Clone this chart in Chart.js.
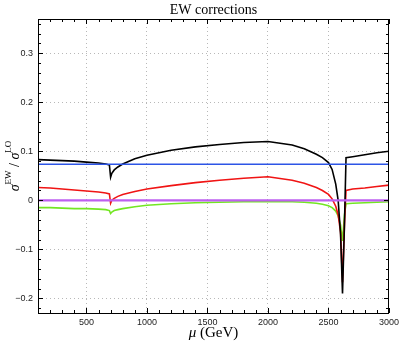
<!DOCTYPE html>
<html>
<head>
<meta charset="utf-8">
<script src="https://cdn.jsdelivr.net/npm/chart.js@4"></script>
<style>
  html, body { margin: 0; padding: 0; background: #fff; }
  #wrap { width: 403px; height: 343px; }
</style>
</head>
<body>
<div id="wrap"><canvas id="myChart" width="403" height="343"></canvas></div>
<script>
// mu in GeV
const mu = [100, 200, 300, 400, 500, 600, 660, 690, 700, 710, 730, 760, 800, 900, 1000,
  1200, 1400, 1600, 1800, 2000, 2200, 2300, 2400, 2450, 2500, 2530, 2560, 2580, 2600,
  2616, 2632, 2645, 2700, 2800, 2900, 3000];

const blackCurve = [0.083, 0.082, 0.081, 0.080, 0.078, 0.076, 0.074, 0.072, 0.047, 0.055, 0.062, 0.068, 0.074, 0.085, 0.092,
  0.102, 0.109, 0.114, 0.118, 0.120, 0.113, 0.105, 0.094, 0.087, 0.077, 0.063, 0.033, 0.0, -0.07,
  -0.19, -0.05, 0.087, 0.089, 0.093, 0.097, 0.100];

const redCurve = [0.026, 0.025, 0.023, 0.021, 0.019, 0.017, 0.015, 0.013, -0.006, 0.0, 0.004, 0.008, 0.012, 0.018, 0.023,
  0.030, 0.036, 0.041, 0.045, 0.048, 0.041, 0.035, 0.026, 0.020, 0.012, 0.003, -0.012, -0.03, -0.065,
  -0.167, -0.05, 0.02, 0.023, 0.025, 0.028, 0.031];

const greenCurve = [-0.015, -0.015, -0.016, -0.017, -0.017, -0.018, -0.019, -0.021, -0.027, -0.024, -0.021, -0.019, -0.017, -0.013, -0.010,
  -0.007, -0.005, -0.004, -0.003, -0.003, -0.003, -0.004, -0.006, -0.008, -0.011, -0.015, -0.022, -0.032, -0.05,
  -0.083, -0.03, -0.007, -0.006, -0.005, -0.004, -0.003];

// flat reference lines
const flatMu = [100, 3000];
const blueLine = [0.0735, 0.0735];
const magentaLine = [0, 0];

const xTicks = [500, 1000, 1500, 2000, 2500, 3000];
const yTicks = [-0.2, -0.1, 0, 0.1, 0.2, 0.3];
const yTickLabels = ["\u22120.2", "\u22120.1", "0", "0.1", "0.2", "0.3"];

const toPoints = (xs, ys) => xs.map((x, i) => ({ x: x, y: ys[i] }));

const serif = '"Liberation Serif", "DejaVu Serif", serif';

// frame with inward ticks, plus titles
const frameTicks = {
  id: "frameTicks",
  afterDraw(chart) {
    const { ctx, chartArea: a, scales: { x, y } } = chart;
    ctx.save();
    ctx.strokeStyle = "#000";
    ctx.lineWidth = 1;
    ctx.beginPath();
    for (let i = 1; i <= 30; i++) {
      const v = i * 100;
      const px = Math.round(x.getPixelForValue(v)) + 0.5;
      const len = i % 5 === 0 ? 5 : 3;
      ctx.moveTo(px, a.bottom); ctx.lineTo(px, a.bottom - len);
      ctx.moveTo(px, a.top); ctx.lineTo(px, a.top + len);
    }
    for (let i = -11; i <= 18; i++) {
      const v = i * 0.02;
      const py = Math.round(y.getPixelForValue(v)) + 0.5;
      const len = i % 5 === 0 ? 5 : 3;
      ctx.moveTo(a.left, py); ctx.lineTo(a.left + len, py);
      ctx.moveTo(a.right, py); ctx.lineTo(a.right - len, py);
    }
    ctx.stroke();
    ctx.strokeRect(Math.round(a.left) + 0.5, Math.round(a.top) + 0.5,
      Math.round(a.right - a.left) - 1, Math.round(a.bottom - a.top));

    // main title
    ctx.fillStyle = "#000";
    ctx.textAlign = "center";
    ctx.textBaseline = "middle";
    ctx.font = "14px " + serif;
    const cx = (a.left + a.right) / 2;
    ctx.fillText("EW corrections", cx, 10);

    // x title: italic mu + (GeV)
    ctx.textAlign = "left";
    ctx.font = "italic 15px " + serif;
    const muW = ctx.measureText("\u03bc").width;
    ctx.font = "15px " + serif;
    const restW = ctx.measureText(" (GeV)").width;
    let sx = cx - (muW + restW) / 2;
    ctx.font = "italic 15px " + serif;
    ctx.fillText("\u03bc", sx, 333);
    ctx.font = "15px " + serif;
    ctx.fillText(" (GeV)", sx + muW, 333);

    // y title: sigma^EW / sigma^LO, rotated
    const parts = [
      { t: "\u03c3", f: "italic 14px " + serif, dy: 0 },
      { t: "EW", f: "9px " + serif, dy: -6 },
      { t: " / ", f: "14px " + serif, dy: 0 },
      { t: "\u03c3", f: "italic 14px " + serif, dy: 0 },
      { t: "LO", f: "9px " + serif, dy: -6 },
    ];
    let total = 0;
    parts.forEach(p => { ctx.font = p.f; p.w = ctx.measureText(p.t).width; total += p.w; });
    ctx.translate(15, (a.top + a.bottom) / 2);
    ctx.rotate(-Math.PI / 2);
    let px = -total / 2;
    parts.forEach(p => { ctx.font = p.f; ctx.fillText(p.t, px, p.dy); px += p.w; });
    ctx.restore();
  },
};

const ctx = document.getElementById("myChart").getContext("2d");

const myChart = new Chart(ctx, {
  type: "line",
  data: {
    datasets: [
      {
        label: "magenta",
        data: toPoints(flatMu, magentaLine),
        borderColor: "rgb(190, 95, 240)",
        borderWidth: 2.2,
        order: 0,
      },
      {
        label: "blue",
        data: toPoints(flatMu, blueLine),
        borderColor: "rgb(45, 85, 230)",
        borderWidth: 1.6,
        order: 1,
      },
      {
        label: "black",
        data: toPoints(mu, blackCurve),
        borderColor: "#000",
        borderWidth: 1.6,
        order: 2,
      },
      {
        label: "red",
        data: toPoints(mu, redCurve),
        borderColor: "rgb(240, 20, 20)",
        borderWidth: 1.6,
        order: 3,
      },
      {
        label: "green",
        data: toPoints(mu, greenCurve),
        borderColor: "rgb(115, 230, 35)",
        borderWidth: 1.6,
        order: 4,
      },
    ],
  },
  options: {
    responsive: false,
    animation: false,
    devicePixelRatio: 1,
    layout: { padding: { left: 0, right: 11, top: 19, bottom: 0 } },
    elements: {
      point: { radius: 0, hoverRadius: 0 },
      line: { tension: 0, fill: false },
    },
    scales: {
      x: {
        type: "linear",
        min: 100,
        max: 3000,
        afterBuildTicks: (s) => { s.ticks = xTicks.map(v => ({ value: v })); },
        afterFit: (s) => { s.height = 30; },
        grid: { color: "rgba(0,0,0,0.28)", drawTicks: false },
        border: { display: false, dash: [1, 3] },
        ticks: {
          padding: 4,
          color: "#222",
          font: { family: '"Liberation Sans", Arial, sans-serif', size: 9 },
          maxRotation: 0,
          callback: (v) => String(v),
        },
      },
      y: {
        type: "linear",
        min: -0.23,
        max: 0.37,
        afterBuildTicks: (s) => { s.ticks = yTicks.map(v => ({ value: v })); },
        afterFit: (s) => { s.width = 38; },
        grid: { color: "rgba(0,0,0,0.28)", drawTicks: false },
        border: { display: false, dash: [1, 3] },
        ticks: {
          padding: 5,
          color: "#222",
          font: { family: '"Liberation Sans", Arial, sans-serif', size: 9 },
          callback: (v, i) => yTickLabels[i],
        },
      },
    },
    plugins: {
      legend: { display: false },
      tooltip: { enabled: false },
    },
  },
  plugins: [frameTicks],
});
</script>
</body>
</html>
